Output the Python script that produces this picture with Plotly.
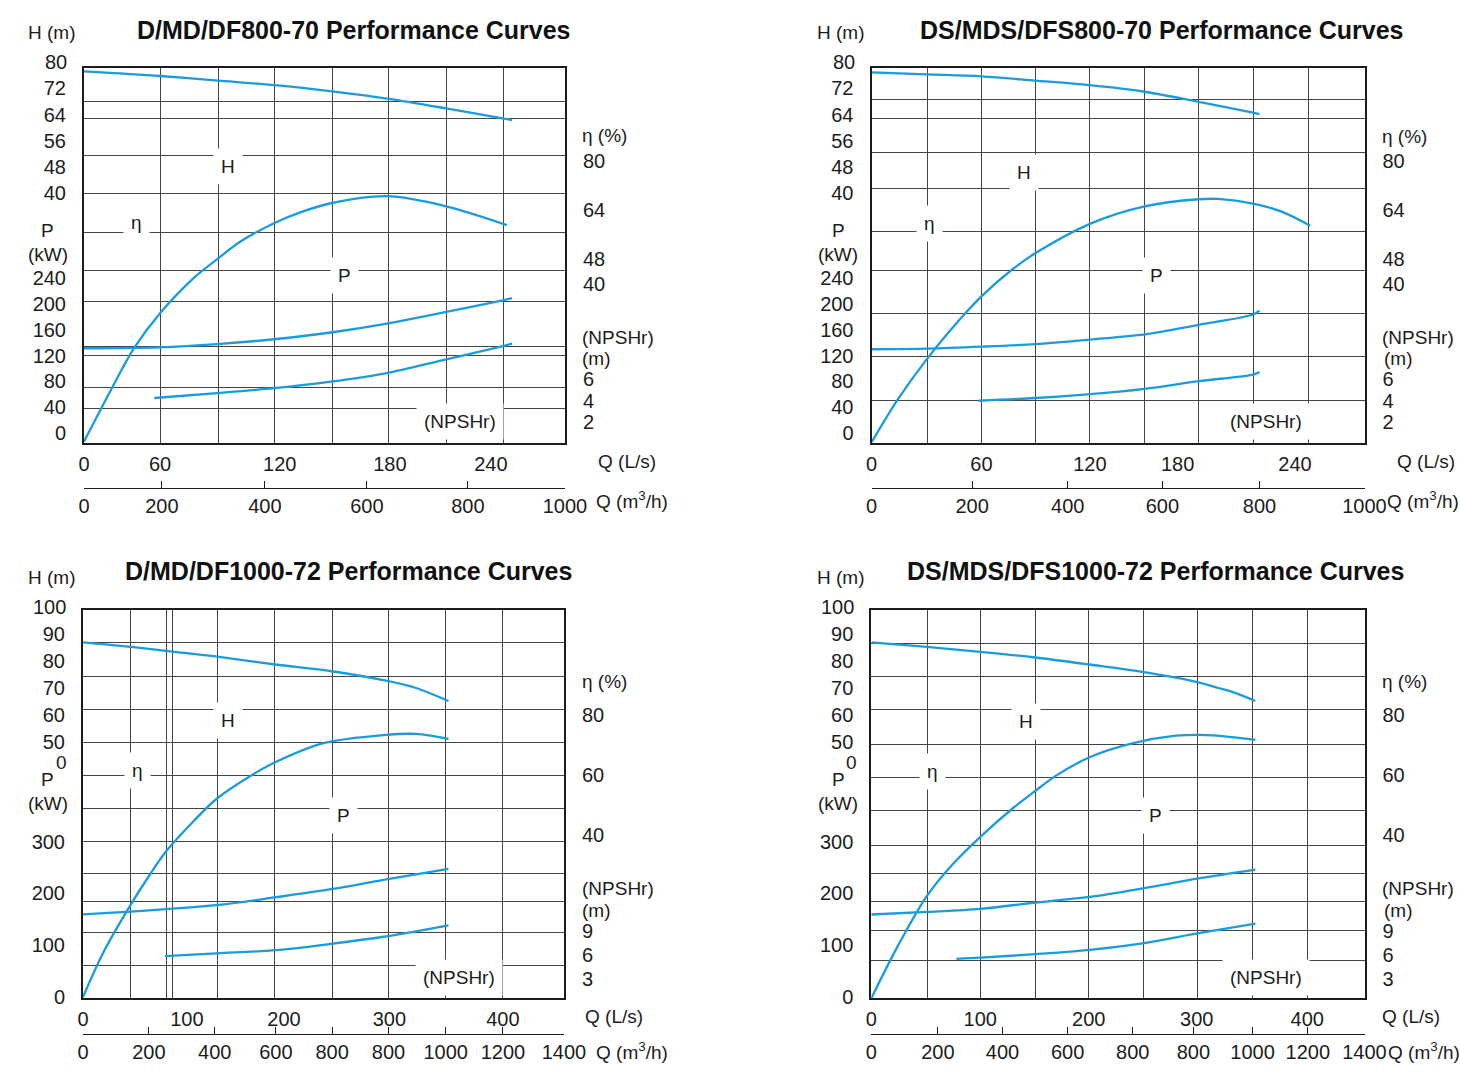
import plotly.graph_objects as go

W, H = 1460, 1077
FONT = "Liberation Sans, Arial, sans-serif"
BLUE = "#1a9be0"
INK = "#1c1c1c"
GRID = "#444444"
TICK_FONT = 20

TITLES = ["D/MD/DF800-70 Performance Curves", "DS/MDS/DFS800-70 Performance Curves",
          "D/MD/DF1000-72 Performance Curves", "DS/MDS/DFS1000-72 Performance Curves"]

# tick labels
H_TICKS_800 = [40, 48, 56, 64, 72, 80]
P_TICKS_800 = [0, 40, 80, 120, 160, 200, 240]
ETA_TICKS_800 = [40, 48, 64, 80]
NPSH_TICKS_800 = [2, 4, 6]
LS_LABELS_800 = ["0", "60", "120", "180", "240"]
M3H_LABELS_800 = ["0", "200", "400", "600", "800", "1000"]

H_TICKS_1000 = [50, 60, 70, 80, 90, 100]
P_TICKS_1000 = [0, 100, 200, 300]
ETA_TICKS_1000 = [40, 60, 80]
NPSH_TICKS_1000 = [3, 6, 9]
LS_LABELS_1000 = ["0", "100", "200", "300", "400"]
M3H_LABELS_1000 = ["0", "200", "400", "600", "800", "800", "1000", "1200", "1400"]

# D/MD/DF800-70, Q in m3/h
A_Q_H = [0, 158, 279, 397, 516, 634, 753, 873, 890]
A_H = [77.2, 75.8, 74.4, 73.0, 71.1, 68.8, 65.9, 62.8, 62.35]
A_Q_ETA = [0, 56, 104, 158, 229, 277, 326, 395, 451, 513, 630, 753, 879]
A_ETA = [-11.4, 5.4, 19.0, 30.4, 42.0, 48.0, 53.8, 59.7, 63.3, 66.2, 68.5, 65.2, 59.1]
A_Q_P = [0, 158, 277, 395, 513, 624, 753, 873, 890]
A_P = [131.5, 133, 138, 145.5, 156, 169, 188, 206.5, 209.5]
A_Q_NPSH = [146, 277, 395, 513, 624, 753, 873, 890]
A_NPSH = [4.25, 4.7, 5.15, 5.75, 6.5, 7.8, 9.05, 9.25]

# DS/MDS/DFS800-70, Q in m3/h
B_Q_H = [0, 113, 223, 332, 443, 554, 664, 774, 787]
B_H = [76.9, 76.3, 75.7, 74.4, 73.0, 71.0, 67.9, 64.6, 64.2]
B_Q_ETA = [0, 52, 113, 182, 223, 286, 332, 443, 554, 664, 703, 774, 833, 890]
B_ETA = [-11.7, 2.0, 15.6, 28.9, 35.9, 44.7, 49.9, 59.5, 65.2, 67.5, 67.6, 66.1, 63.4, 58.9]
B_Q_P = [0, 113, 223, 332, 443, 554, 664, 774, 787]
B_P = [130, 131, 134, 138, 145, 153, 168, 184, 190]
B_Q_NPSH = [217, 332, 443, 554, 664, 774, 787]
B_NPSH = [4.0, 4.25, 4.6, 5.1, 5.8, 6.4, 6.65]

# D/MD/DF1000-72, Q in L/s
C_Q_H = [0, 46, 85, 128, 183, 237, 291, 317, 348]
C_H = [86.9, 85.2, 83.5, 81.6, 78.7, 76.2, 72.5, 70.0, 65.2]
C_Q_ETA = [0, 19, 41, 64, 79, 105, 127, 159, 184, 229, 286, 317, 348]
C_ETA = [-14, 0.6, 14.2, 27.0, 34.5, 44.5, 52.0, 59.6, 64.4, 70.6, 73.3, 73.7, 72.0]
C_Q_P = [0, 41, 127, 184, 236, 286, 348]
C_P = [159.4, 164, 177, 192.5, 208, 226, 247.6]
C_Q_NPSH = [78, 127, 184, 236, 286, 348]
C_NPSH = [5.85, 6.2, 6.6, 7.4, 8.3, 9.75]

# DS/MDS/DFS1000-72, Q in L/s
D_Q_H = [0, 51, 100, 150, 200, 250, 300, 318, 334, 352]
D_H = [86.9, 85.2, 83.4, 81.3, 78.7, 75.9, 72.1, 70.0, 68.1, 65.2]
D_Q_ETA = [0, 24, 51, 75, 100, 130, 150, 169, 200, 240, 279, 300, 314, 352]
D_ETA = [-14.4, 2.8, 19.7, 30.4, 39.4, 49.0, 54.6, 59.7, 65.9, 70.6, 73.1, 73.4, 73.2, 71.7]
D_Q_P = [0, 51, 100, 150, 200, 250, 300, 352]
D_P = [159, 164, 170, 182, 193, 210, 229, 246]
D_Q_NPSH = [78, 100, 150, 200, 250, 300, 352]
D_NPSH = [5.5, 5.65, 6.1, 6.65, 7.5, 8.75, 9.95]

SERIES = [
    [(A_Q_H, A_H), (A_Q_P, A_P), (A_Q_ETA, A_ETA), (A_Q_NPSH, A_NPSH)],
    [(B_Q_H, B_H), (B_Q_P, B_P), (B_Q_ETA, B_ETA), (B_Q_NPSH, B_NPSH)],
    [(C_Q_H, C_H), (C_Q_P, C_P), (C_Q_ETA, C_ETA), (C_Q_NPSH, C_NPSH)],
    [(D_Q_H, D_H), (D_Q_P, D_P), (D_Q_ETA, D_ETA), (D_Q_NPSH, D_NPSH)],
]
TICKS_800 = dict(h=H_TICKS_800, p=P_TICKS_800, e=ETA_TICKS_800, n=NPSH_TICKS_800,
                 ls=LS_LABELS_800, m3h=M3H_LABELS_800)
TICKS_1000 = dict(h=H_TICKS_1000, p=P_TICKS_1000, e=ETA_TICKS_1000, n=NPSH_TICKS_1000,
                  ls=LS_LABELS_1000, m3h=M3H_LABELS_1000)
TICKS = [TICKS_800, TICKS_800, TICKS_1000, TICKS_1000]

# layout of each panel (pixels) and the irregular scanned grid (fractions of the box)
R800 = dict(h=[-36.1, 78.4], p=[-15, 568], e=[-11.7, 110.4], n=[0.16, 34.64])
R1000 = dict(h=[-44.9, 99], p=[-3.3, 750], e=[-14.4, 115.1], n=[0.52, 49.7])
STYLE = [
    dict(box=(84, 565, 67.5, 442.5), qline=488, q=[0, 1000], r=R800,
         vgrid=[0.158, 0.279, 0.397, 0.516, 0.634, 0.753, 0.873],
         hgrid=[0.091, 0.135, 0.234, 0.335, 0.439, 0.541, 0.625, 0.744, 0.769, 0.853, 0.910],
         ls_pos=[0, 0.158, 0.407, 0.636, 0.846], m3h_pos=[0, 0.162, 0.376, 0.588, 0.798, 1.0],
         text=[(354, 30), (51, 33), (48, 231), (48, 254), None, (580, 135), (580, 337), (580, 358),
               (596, 461), (594, 500), (228, 166), (136, 222), (344, 275), (460, 422)]),
    dict(box=(871.5, 1364.5, 67.5, 442.5), qline=488, q=[0, 1000], r=R800,
         vgrid=[0.113, 0.223, 0.332, 0.443, 0.554, 0.664, 0.774, 0.887],
         hgrid=[0.085, 0.137, 0.227, 0.323, 0.437, 0.541, 0.657, 0.770, 0.887],
         ls_pos=[0, 0.223, 0.443, 0.621, 0.859], m3h_pos=[0, 0.204, 0.398, 0.590, 0.787, 1.0],
         text=[(1162, 30), (840, 33), (838, 231), (838, 254), None, (1380, 136), (1380, 337), (1382, 358),
               (1395, 461), (1385, 500), (1024, 173), (929, 223), (1156, 275), (1266, 422)]),
    dict(box=(83, 564, 609.7, 998.2), qline=1034, q=[0, 458], r=R1000,
         vgrid=[0.0996, 0.173, 0.186, 0.280, 0.399, 0.518, 0.635, 0.754, 0.873],
         hgrid=[0.084, 0.171, 0.257, 0.343, 0.426, 0.511, 0.596, 0.678, 0.750, 0.832, 0.917],
         ls_pos=[0, 0.216, 0.418, 0.637, 0.873],
         m3h_pos=[0, 0.137, 0.274, 0.401, 0.518, 0.635, 0.754, 0.873, 1.0],
         text=[(348, 571), (51, 577), (48, 780), (48, 803), (61, 762), (580, 681), (580, 888), (580, 910),
               (583, 1016), (594, 1051), (228, 720), (137, 770), (343, 815), (459, 977)]),
    dict(box=(871.3, 1364.5, 609.7, 998.2), qline=1034, q=[0, 452], r=R1000,
         vgrid=[0.113, 0.221, 0.332, 0.441, 0.552, 0.662, 0.773, 0.884],
         hgrid=[0.086, 0.171, 0.258, 0.347, 0.432, 0.516, 0.606, 0.680, 0.750, 0.826, 0.902],
         ls_pos=[0, 0.221, 0.441, 0.660, 0.884],
         m3h_pos=[0, 0.135, 0.266, 0.398, 0.530, 0.653, 0.773, 0.885, 1.0],
         text=[(1155, 571), (840, 577), (838, 780), (838, 803), (851, 762), (1380, 681), (1380, 888), (1382, 910),
               (1380, 1016), (1386, 1051), (1026, 721), (932, 771), (1155, 815), (1266, 977)]),
]
TEXTS = ["TITLE", "H (m)", "P", "(kW)", "0", "η (%)", "(NPSHr)", "(m)",
         "Q (L/s)", "Q (m<sup>3</sup>/h)", "H", "η", "P", "(NPSHr)"]


def key(axis, n):
    return axis + "axis" + ("" if n == 1 else str(n))


def ref(axis, n):
    return axis + ("" if n == 1 else str(n))


fig = go.Figure()
layout = dict(width=W, height=H, margin=dict(l=0, r=0, t=0, b=0, autoexpand=False),
              paper_bgcolor="white", plot_bgcolor="white", showlegend=False,
              font=dict(family=FONT, size=TICK_FONT, color=INK))
annotations = []

for p, (st, series, ticks) in enumerate(zip(STYLE, SERIES, TICKS)):
    xg, xq, xl, xm = 4 * p + 1, 4 * p + 2, 4 * p + 3, 4 * p + 4
    yg, yh, yp, ye, yn = 5 * p + 1, 5 * p + 2, 5 * p + 3, 5 * p + 4, 5 * p + 5
    left, right, top, bottom = st["box"]
    xdom = [left / W, right / W]
    ydom = [1 - bottom / H, 1 - top / H]

    frame = dict(range=[0, 1], showticklabels=False, ticks="", showgrid=True,
                 gridcolor=GRID, gridwidth=1.4, zeroline=False, showline=True,
                 mirror=True, linecolor=INK, linewidth=2, fixedrange=True, automargin=False)
    layout[key("x", xg)] = dict(frame, domain=xdom, anchor=ref("y", yg), tickvals=st["vgrid"])
    layout[key("y", yg)] = dict(frame, domain=ydom, anchor=ref("x", xg),
                                tickvals=[1 - f for f in st["hgrid"]])
    layout[key("x", xq)] = dict(overlaying=ref("x", xg), anchor=ref("y", yg), domain=xdom,
                                range=st["q"], visible=False, fixedrange=True, automargin=False)
    layout[key("x", xl)] = dict(overlaying=ref("x", xg), anchor=ref("y", yg), domain=xdom, range=[0, 1],
                                tickvals=st["ls_pos"], ticktext=ticks["ls"], ticks="outside",
                                ticklen=3, tickcolor="rgba(0,0,0,0)", showgrid=False,
                                zeroline=False, showline=False, fixedrange=True, automargin=False)
    layout[key("x", xm)] = dict(overlaying=ref("x", xg), anchor="free", position=1 - st["qline"] / H,
                                domain=xdom, range=[0, 1], tickvals=st["m3h_pos"], ticktext=ticks["m3h"],
                                ticks="inside", ticklen=7, tickcolor=INK, tickwidth=1.2,
                                showline=True, linecolor=INK, linewidth=1.4, showgrid=False,
                                zeroline=False, fixedrange=True, automargin=False)
    for n, name, side in [(yh, "h", "left"), (yp, "p", "left"), (ye, "e", "right"), (yn, "n", "right")]:
        layout[key("y", n)] = dict(overlaying=ref("y", yg), anchor=ref("x", xg), side=side, domain=ydom,
                                   range=st["r"][name], tickvals=ticks[name], ticks="outside",
                                   ticklen=13, tickcolor="rgba(0,0,0,0)", showgrid=False,
                                   zeroline=False, showline=False, fixedrange=True, automargin=False)

    # head ticks that sit just above the frame (outside the axis range): placed with the same scale
    lo, hi = st["r"]["h"]
    for v in ticks["h"]:
        if v > hi:
            yv = ydom[0] + (v - lo) / (hi - lo) * (ydom[1] - ydom[0])
            annotations.append(dict(x=xdom[0], xref="paper", y=yv, yref="paper", text=str(v),
                                    showarrow=False, xanchor="right", yanchor="middle",
                                    xshift=-15, font=dict(size=TICK_FONT, color=INK)))

    # empty traces so that every axis pair becomes a subplot
    fig.add_trace(go.Scatter(x=[None], y=[None], xaxis=ref("x", xg), yaxis=ref("y", yg), hoverinfo="skip"))
    fig.add_trace(go.Scatter(x=[None], y=[None], xaxis=ref("x", xl), yaxis=ref("y", yg), hoverinfo="skip"))
    fig.add_trace(go.Scatter(x=[None], y=[None], xaxis=ref("x", xm), yaxis=ref("y", yg), hoverinfo="skip"))

    for (q, v), n in zip(series, [yh, yp, ye, yn]):
        fig.add_trace(go.Scatter(x=q, y=v, xaxis=ref("x", xq), yaxis=ref("y", n), mode="lines",
                                 line=dict(color=BLUE, width=2.3, shape="spline", smoothing=0.9),
                                 hoverinfo="skip"))

    for i, (label, pos) in enumerate(zip(TEXTS, st["text"])):
        if pos is None:
            continue
        a = dict(x=pos[0] / W, y=1 - pos[1] / H, xref="paper", yref="paper", showarrow=False,
                 text=label, xanchor="center", yanchor="middle", font=dict(size=TICK_FONT - 1, color=INK))
        if i == 0:
            a["text"] = "<b>" + TITLES[p] + "</b>"
            a["font"] = dict(size=25, color="#111")
        elif 5 <= i <= 9:
            a["xanchor"] = "left"
        elif i >= 10:
            a["bgcolor"] = "white"
            a["borderpad"] = 7
        annotations.append(a)

layout["annotations"] = annotations
fig.update_layout(**layout)
fig.write_html("out.html", config={"displayModeBar": False},
               post_script="document.body.style.margin='0';")
